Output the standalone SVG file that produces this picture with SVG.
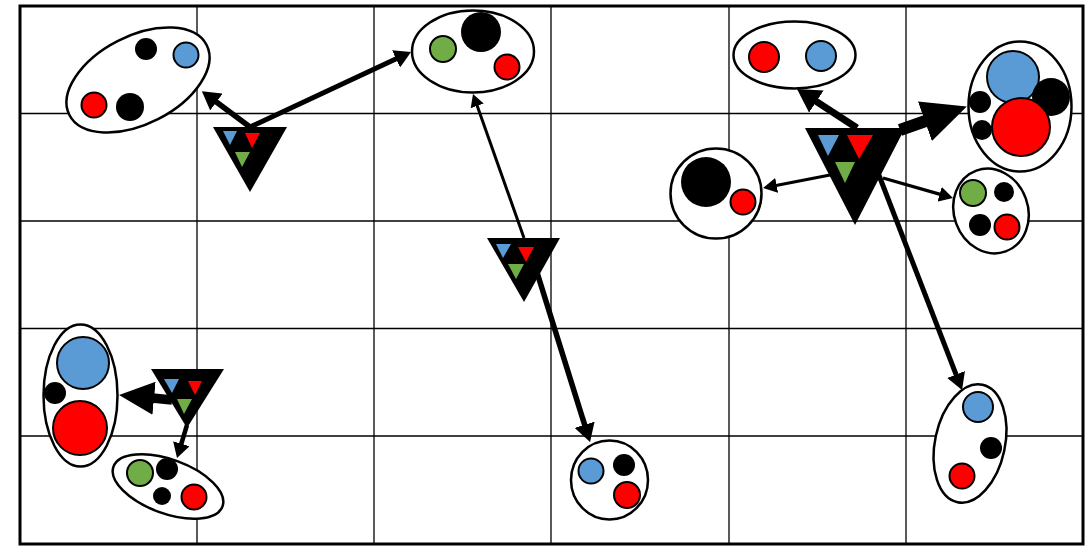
<svg xmlns="http://www.w3.org/2000/svg" width="1089" height="546" viewBox="0 0 1089 546">
<style>
.grid{stroke:#000;stroke-width:1.3;fill:none}
.frame{stroke:#000;stroke-width:3;fill:none}
.grp{fill:#fff;stroke:#000;stroke-width:2.5}
.b{fill:#5B9BD5;stroke:#000;stroke-width:2}
.r{fill:#FF0000;stroke:#000;stroke-width:2}
.g{fill:#70AD47;stroke:#000;stroke-width:2}
.k{fill:#000}
.tri{fill:#000}
.tb{fill:#5B9BD5}
.tr{fill:#FF0000}
.tg{fill:#70AD47}
.c{stroke:#000;fill:none}
.m1{marker-end:url(#ah1)}
.m2{marker-end:url(#ah2)}
.m3{marker-end:url(#ah3)}
</style>
<defs>
<marker id="ah1" viewBox="0 0 10 10" preserveAspectRatio="none" refX="0.5" refY="5" markerWidth="3.3" markerHeight="3.8" orient="auto" markerUnits="strokeWidth"><path d="M0,0 L10,5 L0,10 z" fill="#000"/></marker>
<marker id="ah2" viewBox="0 0 10 10" preserveAspectRatio="none" refX="0.5" refY="5" markerWidth="4.2" markerHeight="4.6" orient="auto" markerUnits="strokeWidth"><path d="M0,0 L10,5 L0,10 z" fill="#000"/></marker>
<marker id="ah3" viewBox="0 0 10 10" preserveAspectRatio="none" refX="0.5" refY="5" markerWidth="3.7" markerHeight="3.5" orient="auto" markerUnits="strokeWidth"><path d="M0,0 L10,5 L0,10 z" fill="#000"/></marker>
</defs>
<rect width="1089" height="546" fill="#fff"/>
<g id="grid">
<line class="grid" x1="197" y1="6" x2="197" y2="544"/>
<line class="grid" x1="374" y1="6" x2="374" y2="544"/>
<line class="grid" x1="551" y1="6" x2="551" y2="544"/>
<line class="grid" x1="729" y1="6" x2="729" y2="544"/>
<line class="grid" x1="906" y1="6" x2="906" y2="544"/>
<line class="grid" x1="20" y1="113.5" x2="1083" y2="113.5"/>
<line class="grid" x1="20" y1="221" x2="1083" y2="221"/>
<line class="grid" x1="20" y1="328.5" x2="1083" y2="328.5"/>
<line class="grid" x1="20" y1="436" x2="1083" y2="436"/>
<rect class="frame" x="20" y="6" width="1063" height="538"/>
</g>
<g id="connectors">
<line class="c m1" stroke-width="5.5" x1="250" y1="127" x2="215.7" y2="101.5"/>
<line class="c m1" stroke-width="5" x1="250" y1="127" x2="396.8" y2="58.6"/>
<line class="c m2" stroke-width="3" x1="524" y1="238" x2="477" y2="105.3"/>
<line class="c m1" stroke-width="5.5" x1="530" y1="250" x2="584.9" y2="425.6"/>
<line class="c m1" stroke-width="7" x1="857" y1="128" x2="815.4" y2="100.9"/>
<line class="c m3" stroke-width="12" x1="900" y1="130" x2="927" y2="120.5"/>
<line class="c m2" stroke-width="3.3" x1="830" y1="175" x2="776" y2="185.5"/>
<line class="c m2" stroke-width="3.3" x1="883" y1="178" x2="940.3" y2="194.4"/>
<line class="c m1" stroke-width="5" x1="875" y1="165" x2="956.4" y2="375.3"/>
<line class="c m3" stroke-width="9.5" x1="172" y1="400" x2="152.3" y2="398.1"/>
<line class="c m1" stroke-width="4.5" x1="187" y1="425" x2="181.1" y2="444.5"/>
</g>
<g id="group-top-left">
<ellipse class="grp" cx="138" cy="80" rx="77" ry="44" transform="rotate(-27 138 80)"/>
<circle class="k" cx="146" cy="49" r="11"/>
<circle class="b" cx="186" cy="55" r="12.5"/>
<circle class="r" cx="94" cy="105" r="12.5"/>
<circle class="k" cx="130" cy="107" r="14"/>
</g>
<g id="source-1">
<polygon class="tri" points="213,127 287,127 250,192"/>
<polygon class="tb" points="223,131 237,131 230,145"/>
<polygon class="tr" points="245,133 260,133 252,148"/>
<polygon class="tg" points="235,152 250,152 242,167"/>
</g>
<g id="group-top-center">
<ellipse class="grp" cx="473" cy="51.5" rx="61" ry="41"/>
<circle class="g" cx="443" cy="49" r="13"/>
<circle class="k" cx="481" cy="32" r="20"/>
<circle class="r" cx="507" cy="67" r="12.5"/>
</g>
<g id="source-2">
<polygon class="tri" points="487,238 560,238 524,302"/>
<polygon class="tb" points="496,244 511,244 503,258"/>
<polygon class="tr" points="518,247 534,247 526,262"/>
<polygon class="tg" points="508,264 524,264 516,279"/>
</g>
<g id="group-bottom-center">
<ellipse class="grp" cx="609.5" cy="480" rx="38.5" ry="39.5"/>
<circle class="b" cx="591" cy="471" r="12.5"/>
<circle class="k" cx="624" cy="465" r="11"/>
<circle class="r" cx="627" cy="495" r="13"/>
</g>
<g id="group-top-right-center">
<ellipse class="grp" cx="794.5" cy="55" rx="61" ry="33.5"/>
<circle class="r" cx="764" cy="57" r="15"/>
<circle class="b" cx="821" cy="56" r="15"/>
</g>
<g id="source-3">
<polygon class="tri" points="805,128 905,128 855,225"/>
<polygon class="tb" points="818,135 839,135 828,156"/>
<polygon class="tr" points="847,135 873,135 859,159"/>
<polygon class="tg" points="835,162 855,162 845,183"/>
</g>
<g id="group-right-big">
<ellipse class="grp" cx="1020" cy="106.5" rx="51.5" ry="65"/>
<circle class="k" cx="980" cy="102" r="11"/>
<circle class="k" cx="982" cy="130" r="10"/>
<circle class="b" cx="1013" cy="77" r="26"/>
<circle class="k" cx="1051" cy="97" r="19"/>
<circle class="r" cx="1021" cy="127" r="29"/>
</g>
<g id="group-left-circle">
<ellipse class="grp" cx="716" cy="193.5" rx="45.5" ry="45"/>
<circle class="k" cx="706" cy="182" r="25"/>
<circle class="r" cx="743" cy="202" r="12.5"/>
</g>
<g id="group-right-small">
<ellipse class="grp" cx="991" cy="211" rx="37" ry="43" transform="rotate(-20 991 211)"/>
<circle class="g" cx="973" cy="193" r="13"/>
<circle class="k" cx="1004" cy="192" r="10"/>
<circle class="k" cx="980" cy="225" r="11"/>
<circle class="r" cx="1007" cy="227" r="12.5"/>
</g>
<g id="group-bottom-right">
<ellipse class="grp" cx="970" cy="443.5" rx="35" ry="60" transform="rotate(12 970 443.5)"/>
<circle class="b" cx="978" cy="407" r="15"/>
<circle class="k" cx="991" cy="448" r="11"/>
<circle class="r" cx="962" cy="476" r="12.5"/>
</g>
<g id="group-left-vertical">
<ellipse class="grp" cx="80.5" cy="395.5" rx="37" ry="71"/>
<circle class="k" cx="55" cy="393" r="11"/>
<circle class="b" cx="83" cy="363" r="26"/>
<circle class="r" cx="80" cy="428" r="27"/>
</g>
<g id="source-4">
<polygon class="tri" points="151,369 224,369 187,428"/>
<polygon class="tb" points="164,379 179,379 172,393"/>
<polygon class="tr" points="188,381 202,381 195,395"/>
<polygon class="tg" points="177,399 192,399 184,414"/>
</g>
<g id="group-bottom-left">
<ellipse class="grp" cx="168" cy="486.5" rx="58" ry="27" transform="rotate(20 168 486.5)"/>
<circle class="g" cx="140" cy="473" r="13"/>
<circle class="k" cx="167" cy="469" r="11"/>
<circle class="k" cx="162" cy="496" r="9"/>
<circle class="r" cx="194" cy="497" r="12.5"/>
</g>
</svg>
